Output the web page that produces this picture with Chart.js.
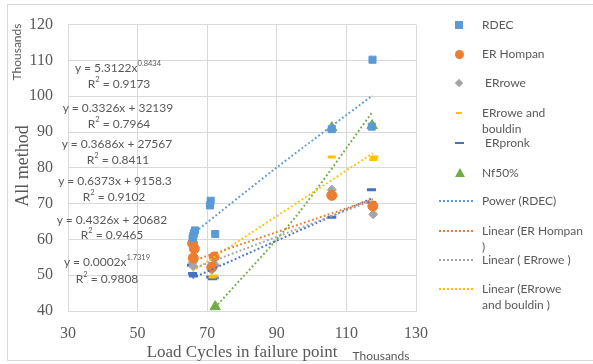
<!DOCTYPE html>
<html><head><meta charset="utf-8">
<script src="https://cdn.jsdelivr.net/npm/chart.js@4"></script>
<style>
html,body{margin:0;padding:0;background:#fff;}
#wrap{position:relative;width:593px;height:364px;overflow:hidden;font-family:Lato,"Open Sans",sans-serif;color:#595959;}
#frame{position:absolute;left:7px;top:4px;width:600px;height:357px;border:1px solid #d9d9d9;box-sizing:border-box;}
canvas{position:absolute;left:0;top:0;}
.t{position:absolute;white-space:nowrap;}
.eq{position:absolute;transform:translate(-50%,-50%);font-size:12px;white-space:nowrap;color:#595959;}
.eq sup{font-size:7.5px;vertical-align:6px;line-height:0;}
.serif{font-family:"Liberation Serif","DejaVu Serif",serif;}
.lg{position:absolute;font-size:12px;line-height:16px;color:#595959;}
.sym{position:absolute;}
</style></head>
<body><div id="wrap"><div id="frame"></div><canvas id="c" width="593" height="364"></canvas></div>
<script>
// ---- data (values in thousands) ----
const xTicks = [30, 50, 70, 90, 110, 130];
const yTicks = [40, 50, 60, 70, 80, 90, 100, 110, 120];
const seriesNames = ["RDEC", "ER Hompan", "ERrowe", "ERrowe and bouldin", "ERpronk", "Nf50%"];

const rdecX = [65.8, 66.0, 66.2, 66.5, 70.8, 71.0, 72.3, 105.8, 117.3, 117.5];
const rdecY = [60.3, 61.0, 61.8, 62.5, 69.5, 70.8, 61.5, 90.8, 91.5, 110.2];
const hompanX = [65.8, 66.3, 66.0, 71.3, 72.0, 105.8, 117.6];
const hompanY = [58.9, 57.4, 54.8, 52.2, 55.1, 72.3, 69.3];
const roweX = [65.8, 66.0, 71.3, 72.3, 105.8, 117.7];
const roweY = [53.5, 52.5, 51.5, 52.8, 73.9, 67.0];
const bouldinX = [65.8, 66.2, 71.5, 72.0, 105.8, 117.7, 118.0];
const bouldinY = [55.3, 54.0, 49.5, 49.8, 83.0, 82.3, 83.0];
const pronkX = [65.5, 65.8, 66.0, 71.0, 71.5, 72.0, 105.8, 117.2, 117.3];
const pronkY = [52.8, 50.5, 49.8, 49.5, 49.0, 49.3, 66.2, 73.9, 70.3];
const nfX = [72.3, 105.8, 117.4];
const nfY = [41.2, 91.2, 91.8];

// trendline points
const trendNames = ["Power (RDEC)", "Linear (ER Hompan )", "Linear ( ERrowe )", "Linear (ERrowe and bouldin )", "Linear (ERpronk)", "Power (Nf50%)"];
const trRdecX = [65.8, 90, 117.5];   const trRdecY = [61.5, 80.1, 100.2];
const trHompanX = [65.8, 117.6];     const trHompanY = [54.0, 71.2];
const trRoweX = [65.8, 117.6];       const trRoweY = [51.8, 70.9];
const trBouldinX = [65.8, 117.6];    const trBouldinY = [51.1, 84.1];
const trPronkX = [65.8, 117.6];      const trPronkY = [49.2, 71.6];
const trNfX = [72.3, 95, 117.4];     const trNfY = [41.0, 65.8, 95.5];

const equations = [
  ["y = 5.3122x", "0.8434", "R² = 0.9173"],
  ["y = 0.3326x + 32139", "", "R² = 0.7964"],
  ["y = 0.3686x + 27567", "", "R² = 0.8411"],
  ["y = 0.6373x + 9158.3", "", "R² = 0.9102"],
  ["y = 0.4326x + 20682", "", "R² = 0.9465"],
  ["y = 0.0002x", "1.7319", "R² = 0.9808"]
];
// ------------------------------------

const C = {blue:"#5B9BD5", orange:"#ED7D31", grey:"#A5A5A5", yellow:"#FFC000", dblue:"#4472C4", green:"#70AD47"};
const pts = (xs, ys) => xs.map((x, i) => ({x: x, y: ys[i]}));

function scatterDS(label, xs, ys, color, style, r, bw) {
  return {label, data: pts(xs, ys), showLine: false, pointStyle: style, pointRadius: r, pointHoverRadius: r,
    backgroundColor: color, borderColor: color, pointBorderWidth: bw || 1, order: 1};
}
function trendDS(label, xs, ys, color) {
  return {label, type: 'line', data: pts(xs, ys), showLine: true, pointRadius: 0, borderColor: color,
    borderWidth: 2, borderDash: [1.8, 2.4], fill: false, tension: 0.3, order: 0};
}

const datasets = [
  scatterDS(seriesNames[0], rdecX, rdecY, C.blue, 'rect', 5),
  scatterDS(seriesNames[1], hompanX, hompanY, C.orange, 'circle', 5),
  scatterDS(seriesNames[2], roweX, roweY, C.grey, 'rectRot', 4.5),
  scatterDS(seriesNames[3], bouldinX, bouldinY, C.yellow, 'line', 4, 3),
  scatterDS(seriesNames[4], pronkX, pronkY, C.dblue, 'line', 4.5, 3),
  scatterDS(seriesNames[5], nfX, nfY, C.green, 'triangle', 6),
  trendDS(trendNames[0], trRdecX, trRdecY, C.blue),
  trendDS(trendNames[1], trHompanX, trHompanY, C.orange),
  trendDS(trendNames[2], trRoweX, trRoweY, C.grey),
  trendDS(trendNames[3], trBouldinX, trBouldinY, C.yellow),
  trendDS(trendNames[4], trPronkX, trPronkY, C.dblue),
  trendDS(trendNames[5], trNfX, trNfY, C.green)
];

const tickFont = {family: "'Liberation Serif', serif", size: 16};
new Chart(document.getElementById('c'), {
  type: 'scatter',
  data: {datasets},
  options: {
    responsive: false, animation: false,
    layout: {padding: {left: 0, right: 177, top: 18, bottom: 0}},
    plugins: {legend: {display: false}, tooltip: {enabled: false}},
    scales: {
      x: {type: 'linear', min: xTicks[0], max: xTicks[xTicks.length - 1],
        afterBuildTicks: s => { s.ticks = xTicks.map(v => ({value: v})); },
        afterFit: s => { s.height = 53; },
        grid: {color: '#d9d9d9', drawTicks: false, lineWidth: 1},
        border: {color: '#d9d9d9'},
        ticks: {font: tickFont, color: '#595959', padding: 13, maxRotation: 0}},
      y: {type: 'linear', min: yTicks[0], max: yTicks[yTicks.length - 1],
        afterBuildTicks: s => { s.ticks = yTicks.map(v => ({value: v})); },
        afterFit: s => { s.width = 68; },
        grid: {color: '#d9d9d9', drawTicks: false, lineWidth: 1},
        border: {color: '#d9d9d9'},
        ticks: {font: tickFont, color: '#595959', padding: 15}}
    }
  }
});

const wrap = document.getElementById('wrap');
function add(html, css, cls) {
  const d = document.createElement('div');
  d.className = cls || 't'; d.innerHTML = html; d.style.cssText += css; wrap.appendChild(d); return d;
}
// axis titles
add("All method", "left:22px;top:166px;transform:translate(-50%,-50%) rotate(-90deg);font-size:18px;", 't serif');
add("Thousands", "left:16px;top:52px;transform:translate(-50%,-50%) rotate(-90deg);font-size:12px;");
add("Load Cycles in failure point", "left:242px;top:352px;transform:translate(-50%,-50%);font-size:17px;", 't serif');
add("Thousands", "left:381px;top:355px;transform:translate(-50%,-50%);font-size:12px;");

// equation labels
const eqPos = [[118, 67, 119, 83], [118, 107, 119, 123], [117, 143, 118, 159], [115, 180, 114, 196], [112, 219, 112, 234], [107, 261, 107, 278]];
equations.forEach((e, i) => {
  const p = eqPos[i];
  add(e[0] + (e[1] ? "<sup>" + e[1] + "</sup>" : ""), `left:${p[0]}px;top:${p[1]}px;`, 'eq');
  add(e[2].replace("²", "<sup>2</sup>"), `left:${p[2]}px;top:${p[3]}px;`, 'eq');
});

// legend (first ten entries, as in the picture)
const legendItems = [
  {text: seriesNames[0], y: 25, sym: `width:8px;height:8px;background:${C.blue};left:455px;top:21px;`},
  {text: seriesNames[1], y: 54, sym: `width:9px;height:9px;border-radius:50%;background:${C.orange};left:455px;top:50px;`},
  {text: "&nbsp;" + seriesNames[2], y: 83, sym: `width:6px;height:6px;background:${C.grey};transform:rotate(45deg);left:456px;top:80px;`},
  {text: seriesNames[3].replace(" bouldin", "<br>bouldin"), y: 113, sym: `width:6px;height:2px;background:${C.yellow};left:456px;top:112px;`},
  {text: "&nbsp;" + seriesNames[4], y: 143, sym: `width:9px;height:2px;background:${C.dblue};left:455px;top:142px;`},
  {text: seriesNames[5], y: 173, sym: `width:0;height:0;border-left:5px solid transparent;border-right:5px solid transparent;border-bottom:9px solid ${C.green};left:455px;top:168px;`},
  {text: trendNames[0], y: 201, line: C.blue},
  {text: "Linear (ER Hompan<br>)", y: 231, line: C.orange},
  {text: trendNames[2], y: 260, line: C.grey},
  {text: "Linear (ERrowe<br>and bouldin )", y: 289, line: C.yellow}
];
legendItems.forEach(it => {
  add(it.text, `left:482px;top:${it.y - 8}px;`, 'lg');
  if (it.sym) add("", it.sym, 'sym');
  else add("", `left:439px;top:${it.y - 1}px;width:34px;height:0;border-top:2px dotted ${it.line};`, 'sym');
});
</script></body></html>
